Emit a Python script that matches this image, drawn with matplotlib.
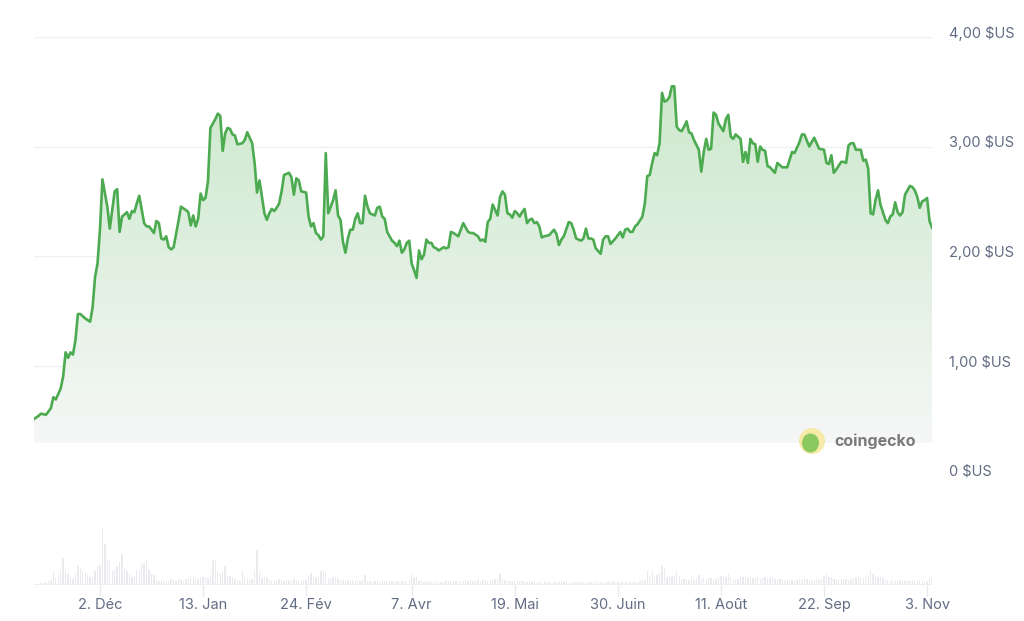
import matplotlib
matplotlib.use("Agg")
import matplotlib.pyplot as plt
import matplotlib.dates as mdates
import matplotlib.transforms as mtransforms
from matplotlib.patches import Ellipse
import numpy as np
import pandas as pd

# ---------------- data ----------------
price_dates = [
    "2023-11-05","2023-11-07","2023-11-08","2023-11-10","2023-11-12","2023-11-13","2023-11-14","2023-11-16",
    "2023-11-17","2023-11-18","2023-11-19","2023-11-20","2023-11-21","2023-11-22","2023-11-23","2023-11-24",
    "2023-11-26","2023-11-28","2023-11-29","2023-11-30","2023-12-01","2023-12-02","2023-12-03","2023-12-05",
    "2023-12-06","2023-12-08","2023-12-09","2023-12-10","2023-12-11","2023-12-13","2023-12-14","2023-12-15",
    "2023-12-16","2023-12-17","2023-12-18","2023-12-20","2023-12-21","2023-12-22","2023-12-24","2023-12-25",
    "2023-12-26","2023-12-27","2023-12-28","2023-12-29","2023-12-30","2023-12-31","2024-01-01","2024-01-03",
    "2024-01-04","2024-01-06","2024-01-07","2024-01-08","2024-01-09","2024-01-10","2024-01-11","2024-01-12",
    "2024-01-13","2024-01-14","2024-01-15","2024-01-16","2024-01-18","2024-01-19","2024-01-20","2024-01-21",
    "2024-01-22","2024-01-23","2024-01-24","2024-01-25","2024-01-26","2024-01-27","2024-01-29","2024-01-30",
    "2024-01-31","2024-02-02","2024-02-03","2024-02-04","2024-02-05","2024-02-06","2024-02-07","2024-02-08",
    "2024-02-09","2024-02-10","2024-02-11","2024-02-12","2024-02-13","2024-02-14","2024-02-15","2024-02-17",
    "2024-02-18","2024-02-19","2024-02-20","2024-02-21","2024-02-22","2024-02-24","2024-02-25","2024-02-26",
    "2024-02-27","2024-02-28","2024-02-29","2024-03-01","2024-03-02","2024-03-03","2024-03-04","2024-03-05",
    "2024-03-06","2024-03-07","2024-03-08","2024-03-09","2024-03-10","2024-03-11","2024-03-12","2024-03-13",
    "2024-03-14","2024-03-15","2024-03-16","2024-03-17","2024-03-18","2024-03-19","2024-03-20","2024-03-21",
    "2024-03-23","2024-03-24","2024-03-25","2024-03-26","2024-03-27","2024-03-28","2024-03-30","2024-03-31",
    "2024-04-01","2024-04-02","2024-04-03","2024-04-04","2024-04-05","2024-04-06","2024-04-07","2024-04-08",
    "2024-04-09","2024-04-10","2024-04-11","2024-04-12","2024-04-13","2024-04-14","2024-04-15","2024-04-16",
    "2024-04-17","2024-04-18","2024-04-20","2024-04-21","2024-04-22","2024-04-23","2024-04-24","2024-04-26",
    "2024-04-27","2024-04-28","2024-04-30","2024-05-01","2024-05-02","2024-05-04","2024-05-05","2024-05-06",
    "2024-05-07","2024-05-08","2024-05-09","2024-05-10","2024-05-12","2024-05-13","2024-05-14","2024-05-15",
    "2024-05-16","2024-05-17","2024-05-18","2024-05-19","2024-05-20","2024-05-21","2024-05-22","2024-05-23",
    "2024-05-24","2024-05-25","2024-05-26","2024-05-27","2024-05-28","2024-05-29","2024-05-30","2024-05-31",
    "2024-06-02","2024-06-04","2024-06-05","2024-06-06","2024-06-07","2024-06-08","2024-06-10","2024-06-11",
    "2024-06-12","2024-06-13","2024-06-15","2024-06-16","2024-06-17","2024-06-18","2024-06-19","2024-06-20",
    "2024-06-21","2024-06-23","2024-06-24","2024-06-25","2024-06-26","2024-06-27","2024-06-29","2024-06-30",
    "2024-07-01","2024-07-02","2024-07-03","2024-07-04","2024-07-05","2024-07-06","2024-07-07","2024-07-08",
    "2024-07-10","2024-07-11","2024-07-12","2024-07-13","2024-07-14","2024-07-15","2024-07-16","2024-07-17",
    "2024-07-18","2024-07-19","2024-07-20","2024-07-21","2024-07-22","2024-07-23","2024-07-24","2024-07-25",
    "2024-07-26","2024-07-27","2024-07-28","2024-07-29","2024-07-30","2024-07-31","2024-08-02","2024-08-03",
    "2024-08-04","2024-08-05","2024-08-06","2024-08-07","2024-08-08","2024-08-09","2024-08-10","2024-08-12",
    "2024-08-13","2024-08-14","2024-08-15","2024-08-16","2024-08-17","2024-08-19","2024-08-20","2024-08-21",
    "2024-08-22","2024-08-23","2024-08-24","2024-08-25","2024-08-26","2024-08-27","2024-08-28","2024-08-29",
    "2024-08-30","2024-08-31","2024-09-02","2024-09-03","2024-09-05","2024-09-07","2024-09-09","2024-09-10",
    "2024-09-12","2024-09-13","2024-09-14","2024-09-16","2024-09-17","2024-09-18","2024-09-20","2024-09-22",
    "2024-09-23","2024-09-24","2024-09-25","2024-09-26","2024-09-27","2024-09-29","2024-09-30","2024-10-01",
    "2024-10-02","2024-10-03","2024-10-04","2024-10-05","2024-10-07","2024-10-08","2024-10-09","2024-10-10",
    "2024-10-11","2024-10-12","2024-10-13","2024-10-14","2024-10-15","2024-10-17","2024-10-18","2024-10-19",
    "2024-10-20","2024-10-21","2024-10-22","2024-10-23","2024-10-24","2024-10-25","2024-10-27","2024-10-28",
    "2024-10-29","2024-10-30","2024-10-31","2024-11-01","2024-11-02","2024-11-03","2024-11-04","2024-11-05",
]
price_values = [
    0.51,0.54,0.56,0.55,0.61,0.71,0.69,0.79,
    0.90,1.12,1.07,1.12,1.10,1.23,1.47,1.47,
    1.43,1.40,1.53,1.81,1.93,2.24,2.70,2.45,
    2.25,2.59,2.61,2.22,2.36,2.40,2.34,2.41,
    2.40,2.48,2.55,2.30,2.27,2.27,2.21,2.32,
    2.30,2.16,2.15,2.18,2.08,2.06,2.08,2.32,
    2.45,2.42,2.40,2.28,2.37,2.27,2.34,2.57,
    2.51,2.53,2.68,3.17,3.25,3.30,3.28,2.96,
    3.12,3.17,3.16,3.11,3.10,3.02,3.03,3.06,
    3.13,3.03,2.85,2.58,2.69,2.54,2.39,2.33,
    2.39,2.43,2.41,2.44,2.48,2.59,2.74,2.76,
    2.72,2.56,2.71,2.69,2.59,2.58,2.36,2.27,
    2.30,2.21,2.19,2.15,2.18,2.94,2.39,2.45,
    2.51,2.60,2.37,2.33,2.13,2.03,2.16,2.24,
    2.24,2.34,2.39,2.30,2.30,2.55,2.45,2.39,
    2.37,2.44,2.45,2.36,2.34,2.22,2.14,2.12,
    2.09,2.14,2.03,2.06,2.12,2.14,1.93,1.87,
    1.80,2.05,1.97,2.01,2.15,2.12,2.12,2.08,
    2.07,2.05,2.08,2.07,2.08,2.22,2.21,2.18,
    2.24,2.30,2.22,2.21,2.21,2.18,2.14,2.15,
    2.13,2.31,2.34,2.47,2.37,2.54,2.59,2.56,
    2.39,2.38,2.35,2.41,2.39,2.36,2.40,2.43,
    2.30,2.33,2.34,2.30,2.31,2.27,2.17,2.18,
    2.19,2.24,2.20,2.10,2.15,2.18,2.31,2.30,
    2.24,2.16,2.14,2.16,2.25,2.16,2.16,2.15,
    2.07,2.02,2.15,2.18,2.18,2.11,2.16,2.19,
    2.22,2.17,2.24,2.25,2.22,2.22,2.27,2.29,
    2.36,2.48,2.73,2.74,2.85,2.94,2.92,3.03,
    3.49,3.41,3.42,3.45,3.55,3.55,3.18,3.15,
    3.14,3.18,3.23,3.13,3.12,3.06,2.97,2.77,
    2.95,3.07,2.97,2.98,3.31,3.29,3.21,3.14,
    3.25,3.29,3.09,3.07,3.11,3.07,2.86,2.95,
    2.85,3.07,3.03,3.02,2.86,3.00,2.97,2.96,
    2.82,2.81,2.76,2.85,2.81,2.81,2.95,2.94,
    3.04,3.11,3.11,3.00,3.04,3.08,2.98,2.97,
    2.85,2.84,2.92,2.76,2.79,2.86,2.86,2.85,
    3.01,3.03,3.03,2.97,2.97,2.87,2.88,2.80,
    2.39,2.38,2.51,2.60,2.47,2.33,2.30,2.36,
    2.38,2.49,2.40,2.37,2.40,2.56,2.64,2.63,
    2.60,2.54,2.44,2.50,2.51,2.53,2.32,2.26,
]

# daily trading volume (millions $US, estimated), 2023-11-05 .. 2024-11-05
volume_start = "2023-11-05"
volume_values = [
    1,1,2,2,2,3,4,5,14,7,
    10,14,27,14,11,7,6,11,19,17,
    14,13,10,8,7,14,19,20,58,41,
    26,25,14,15,19,23,31,17,14,11,
    8,9,15,15,21,22,26,15,11,10,
    5,4,5,4,3,4,6,5,4,6,
    5,4,6,6,7,8,6,6,7,8,
    8,7,10,25,26,14,12,14,19,10,
    9,8,6,5,4,15,8,7,5,6,
    14,35,13,7,8,7,5,4,5,4,
    6,5,4,5,5,4,6,5,4,5,
    4,5,8,12,8,7,8,14,15,12,
    7,6,8,8,6,5,5,4,5,4,
    5,4,5,4,5,10,4,4,3,4,
    4,3,4,4,3,4,4,3,4,3,
    4,4,3,5,12,8,8,4,4,3,
    4,3,4,3,4,3,3,3,4,4,
    3,4,4,3,4,4,5,4,5,4,
    5,5,4,5,5,4,5,5,6,6,
    11,7,5,4,4,4,4,4,3,4,
    4,3,4,3,3,2,3,3,4,3,
    3,2,3,3,3,4,3,3,2,3,
    3,3,4,3,3,2,3,3,3,4,
    3,3,2,3,3,3,4,3,3,3,
    4,3,3,3,3,3,3,4,5,5,
    15,9,13,8,10,12,19,17,8,9,
    9,9,14,8,5,6,6,5,6,5,
    6,10,7,7,6,7,7,6,6,8,
    9,10,8,11,8,6,5,6,8,8,
    8,7,10,7,7,8,6,7,8,6,
    7,8,6,5,6,6,5,6,5,5,
    4,5,6,5,6,6,5,6,5,6,
    5,6,9,11,8,8,6,6,5,6,
    5,6,5,6,7,7,8,8,7,8,
    9,15,11,9,8,8,7,6,5,4,
    5,4,4,5,4,4,5,4,4,5,
    4,5,5,3,4,7,7,
]

y_ticks = [0, 1, 2, 3, 4]
y_tick_labels = ["0 $US", "1,00 $US", "2,00 $US", "3,00 $US", "4,00 $US"]
x_tick_dates = ["2023-12-02", "2024-01-13", "2024-02-24", "2024-04-07", "2024-05-19",
                "2024-06-30", "2024-08-11", "2024-09-22", "2024-11-03"]
x_tick_labels = ["2. Déc", "13. Jan", "24. Fév", "7. Avr", "19. Mai",
                 "30. Juin", "11. Août", "22. Sep", "3. Nov"]

# ---------------- style ----------------
plt.rcParams['font.family'] = ['Inter', 'DejaVu Sans']
LINE = "#4caa50"
TXT = "#626c84"
GRID = "#eef0f2"

W, H = 1024, 621
fig = plt.figure(figsize=(W / 100, H / 100), dpi=100)
fig.patch.set_facecolor("white")

pd_dates = pd.to_datetime(price_dates)
vol_dates = pd.date_range(volume_start, periods=len(volume_values), freq="D")
x0 = pd.Timestamp("2023-11-05")
x1 = pd.Timestamp("2024-11-05")

left_px, right_px = 33.7, 932.0
ax = fig.add_axes([left_px / W, (H - 475) / H, (right_px - left_px) / W, (475 - 37) / H])
ax.set_xlim(x0, x1)
ax.set_ylim(0, 4)
for s in ax.spines.values():
    s.set_visible(False)
ax.set_yticks(y_ticks)
ax.set_yticklabels(y_tick_labels)
ax.yaxis.tick_right()
ax.tick_params(axis="y", length=0, pad=12, labelsize=10.5, labelcolor=TXT)
shift = mtransforms.ScaledTranslation(0, 5 / 100, fig.dpi_scale_trans)
for lab in ax.get_yticklabels():
    lab.set_transform(lab.get_transform() + shift)
ax.set_xticks([])
ax.grid(axis="y", color=GRID, linewidth=1)
ax.set_axisbelow(True)

# gradient fill under the line
base = 0.29
poly = ax.fill_between(pd_dates, base, price_values, color="none", linewidth=0)
top = 3.6
grad = np.linspace(0, 1, 256).reshape(-1, 1)
c_top = np.array([0.80, 0.91, 0.80])
c_bot = np.array([0.962, 0.970, 0.966])
img = c_bot[None, None, :] * (1 - grad[:, :, None]) + c_top[None, None, :] * grad[:, :, None]
im = ax.imshow(img, extent=[mdates.date2num(x0), mdates.date2num(x1), base, top],
               origin="lower", aspect="auto", zorder=1, interpolation="bilinear")
path = poly.get_paths()[0]
im.set_clip_path(path, transform=ax.transData)
ax.set_xlim(x0, x1)
ax.set_ylim(0, 4)

ax.plot(pd_dates, price_values, color=LINE, linewidth=1.9, zorder=3, solid_joinstyle="round")

# ---------------- volume ----------------
vax = fig.add_axes([left_px / W, (H - 585) / H, (right_px - left_px) / W, 100 / H])
vax.bar(vol_dates, volume_values, width=0.55, color="#e9ebee", linewidth=0)
vax.set_xlim(x0, x1)
vax.set_ylim(0, 100)
for s in vax.spines.values():
    s.set_visible(False)
vax.axhline(0, color="#eceef1", linewidth=1.2)
vax.set_yticks([])
vax.set_xticks(pd.to_datetime(x_tick_dates))
vax.set_xticklabels(x_tick_labels)
vax.tick_params(axis="x", length=8, width=1, color="#e8eaee", pad=1.5,
                labelsize=10.5, labelcolor=TXT)
vax.patch.set_alpha(0)

# ---------------- watermark ----------------
cx, cy = 812 / W, 1 - 441 / H
fig.patches.append(Ellipse((cx, cy), 26 / W, 26 / H, transform=fig.transFigure,
                           facecolor="#f7e9a6", edgecolor="none", zorder=5))
fig.patches.append(Ellipse((cx - 1.5 / W, cy - 2 / H), 17 / W, 19 / H, transform=fig.transFigure,
                           facecolor="#8cc860", edgecolor="none", zorder=6))
fig.text(834 / W, cy, "coingecko", fontsize=11.5, fontweight="bold", color="#7a7a7a",
         ha="left", va="center", zorder=7)

fig.savefig("out.png", dpi=100, facecolor="white")
